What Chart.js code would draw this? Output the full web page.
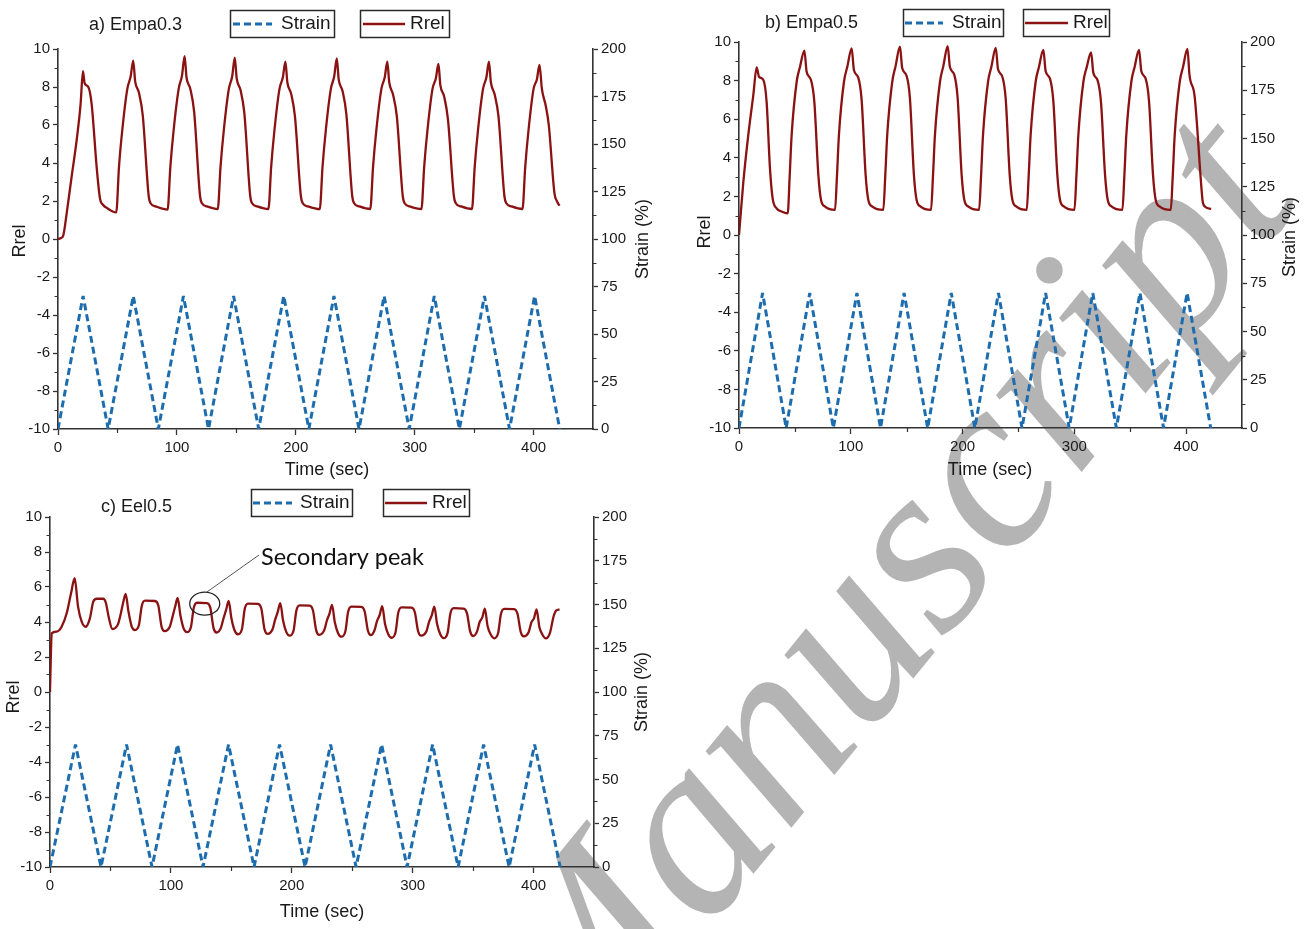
<!DOCTYPE html>
<html><head><meta charset="utf-8">
<script src="https://cdn.jsdelivr.net/npm/chart.js@4.4.1/dist/chart.umd.min.js"></script>
<style>
html,body{margin:0;padding:0;background:#fff;}
body{width:1304px;height:929px;position:relative;overflow:hidden;}
canvas{position:absolute;}
#wm{position:absolute;left:0;top:0;}
</style></head><body>
<svg id="wm" width="1304" height="929"><text x="575" y="1093" transform="rotate(-50.8 575 1093)" font-family="Liberation Serif" font-style="italic" font-size="250" fill="#b4b4b4">Manuscript</text></svg>
<canvas id="ca" width="652" height="482" style="left:0;top:0;width:652px;height:482px"></canvas>
<canvas id="cb" width="652" height="482" style="left:652px;top:0;width:652px;height:482px"></canvas>
<canvas id="cc" width="652" height="447" style="left:0;top:482px;width:652px;height:447px"></canvas>
<script>
// ---------- data ----------
const strainTime = [0,21.1,42.2,63.3,84.4,105.5,126.6,147.7,168.8,189.9,211,232.1,253.2,274.3,295.4,316.5,337.6,358.7,379.8,400.9,422];
const strainPct  = [0,70,0,70,0,70,0,70,0,70,0,70,0,70,0,70,0,70,0,70,0];

const aTime = [0,2.5,4.5,7.3,11.5,15.7,19,21,22.4,25.5,28.3,32.5,35.3,38,42,46,
 49.0,51.3,54.1,58.3,61.1,63.3,64.9,68.1,71.3,76.3,77.9,82.1,
 92.2,94.5,97.3,101.5,104.3,106.5,108.1,111.3,114.5,119.5,121.1,125.3,
 134.4,136.7,139.5,143.7,146.5,148.7,150.3,153.5,156.7,161.7,163.3,167.5,
 177.0,179.3,182.1,186.3,189.1,191.3,192.9,196.1,199.3,204.3,205.9,210.1,
 220.2,222.5,225.3,229.5,232.3,234.5,236.1,239.3,242.5,247.5,249.1,253.3,
 262.7,265.0,267.8,272.0,274.8,277.0,278.6,281.8,285.0,290.0,291.6,295.8,
 305.7,308.0,310.8,315.0,317.8,320.0,321.6,324.8,328.0,333.0,334.6,338.8,
 348.2,350.5,353.3,357.5,360.3,362.5,364.1,367.3,370.5,375.5,377.1,381.3,
 390.7,393.0,395.8,400.0,402.8,405.0,407.0,410.3,412.8,417.6,419.6,421.8];
const aRrel = [0,0.05,0.2,1.35,3.3,5.2,7.1,8.84,8.2,8.0,7.1,3.8,2.14,1.79,1.6,1.45,
 1.40,3.8,5.75,7.9,8.55,9.39,8.3,7.7,6.5,2.25,1.88,1.72,
 1.55,3.8,5.75,7.9,8.6,9.63,8.5,7.9,6.7,2.25,1.88,1.72,
 1.58,3.8,5.75,7.9,8.55,9.54,8.45,7.85,6.65,2.25,1.88,1.72,
 1.58,3.8,5.75,7.9,8.5,9.33,8.25,7.65,6.45,2.25,1.88,1.72,
 1.57,3.8,5.75,7.9,8.55,9.51,8.4,7.8,6.6,2.25,1.88,1.72,
 1.58,3.8,5.75,7.9,8.5,9.33,8.25,7.6,6.45,2.25,1.88,1.72,
 1.58,3.8,5.75,7.9,8.45,9.21,8.1,7.5,6.3,2.25,1.88,1.72,
 1.58,3.8,5.75,7.9,8.5,9.33,8.25,7.6,6.45,2.25,1.88,1.72,
 1.58,3.8,5.75,7.9,8.4,9.16,7.9,7.0,6.0,2.4,2.0,1.75];

const bTime = [0,3.9,8.3,12.8,15.8,17.9,21.8,24.7,27.7,30.1,33.7,38.0,43.6,
 45.3,47.1,51.6,54.6,58.5,60.5,64.4,67.4,71.0,73.4,77.0,85.9,
 87.6,89.4,93.9,96.9,100.8,102.8,106.7,109.7,113.3,115.7,119.3,129.1,
 130.8,132.6,137.1,140.1,144.0,146.0,149.9,152.9,156.5,158.9,162.5,171.8,
 173.5,175.3,179.8,182.8,186.7,188.7,192.6,195.6,199.2,201.6,205.2,214.8,
 216.5,218.3,222.8,225.8,229.7,231.7,235.6,238.6,242.2,244.6,248.2,257.4,
 259.1,260.9,265.4,268.4,272.3,274.3,278.2,281.2,284.8,287.2,290.8,300.1,
 301.8,303.6,308.1,311.1,315.0,317.0,320.9,323.9,327.5,329.9,333.5,343.0,
 344.7,346.5,351.0,354.0,357.9,359.9,363.8,366.8,370.4,372.8,376.4,386.3,
 388.0,389.8,394.3,397.3,401.2,403.0,407.6,413.5,414.8,417.3,422.4];
const bRrel = [0,2.76,5.18,7.25,8.69,8.2,8.03,6.9,3.45,1.9,1.38,1.22,1.12,
 3.0,5.18,7.94,8.72,9.55,8.46,8.03,6.9,3.1,1.81,1.47,1.3,
 3.0,5.18,7.94,8.72,9.67,8.55,8.15,7.0,3.1,1.81,1.47,1.3,
 3.0,5.18,7.94,8.75,9.76,8.65,8.25,7.1,3.1,1.81,1.47,1.3,
 3.0,5.18,7.94,8.75,9.79,8.7,8.3,7.1,3.1,1.81,1.47,1.3,
 3.0,5.18,7.94,8.72,9.7,8.6,8.2,7.05,3.1,1.81,1.47,1.3,
 3.0,5.18,7.94,8.72,9.59,8.5,8.1,6.95,3.1,1.81,1.47,1.3,
 3.0,5.18,7.94,8.7,9.46,8.4,8.0,6.85,3.1,1.81,1.47,1.3,
 3.0,5.18,7.94,8.72,9.59,8.5,8.1,6.95,3.1,1.81,1.47,1.3,
 3.0,5.18,7.94,8.72,9.64,8.3,7.2,2.6,1.75,1.45,1.35];

const cTime = [0,0.6,1.4,5.5,9.6,13.8,17.4,20.4,23.2,26.2,29.5,33.0,35.8,38.6,44.0,46.2,48.5,51.6,56.1,58.3,60.5,
 62.6,64.9,67.6,70.3,73.6,75.9,78.6,86.9,89.6,92.3,94.8,99.1,101.3,103.5,
 105.6,107.9,110.6,113.3,116.6,118.9,121.6,129.9,132.6,135.3,137.8,141.3,143.5,145.7,
 147.8,150.1,152.8,155.5,158.8,161.1,163.8,172.1,174.8,177.5,180.0,184.0,186.2,188.4,
 190.5,192.8,195.5,198.2,201.5,203.8,206.5,214.8,217.5,220.2,222.7,226.8,229.0,231.2,
 233.3,235.6,238.3,241.0,244.3,246.6,249.3,257.6,260.3,263.0,265.5,268.3,270.5,272.7,
 274.8,277.1,279.8,282.5,285.8,288.1,290.8,299.1,301.8,304.5,307.0,311.4,313.6,315.8,
 317.9,320.2,322.9,325.6,328.9,331.2,333.9,342.2,344.9,347.6,350.1,353.2,355.4,357.6,
 359.7,362.0,364.7,367.4,370.7,373.0,375.7,384.0,386.7,389.4,391.9,396.0,398.2,400.4,
 402.5,404.8,407.5,410.2,413.5,416.5,418.8,421.5];
const cRrel = [0,1.8,3.35,3.45,3.73,4.5,5.64,6.5,4.88,4.02,3.73,4.21,5.16,5.33,5.33,5.1,4.3,3.6,3.85,4.4,5.1,
 5.6,4.6,3.74,3.54,3.84,4.92,5.22,5.2,4.94,3.73,3.48,3.73,4.28,4.87,
 5.37,4.37,3.62,3.42,3.72,4.8,5.1,5.08,4.82,3.65,3.4,3.65,4.2,4.7,
 5.2,4.2,3.5,3.3,3.6,4.75,5.05,5.03,4.77,3.57,3.32,3.57,4.12,4.58,
 5.08,4.08,3.42,3.22,3.52,4.65,4.95,4.93,4.67,3.52,3.27,3.52,4.07,4.48,
 4.98,3.98,3.36,3.16,3.46,4.58,4.88,4.86,4.6,3.5,3.25,3.5,4.05,4.4,
 4.9,3.9,3.3,3.1,3.4,4.54,4.84,4.82,4.56,3.47,3.22,3.47,4.02,4.38,
 4.88,3.88,3.28,3.08,3.38,4.49,4.79,4.77,4.51,3.45,3.2,3.45,4.0,4.26,
 4.76,3.76,3.27,3.07,3.37,4.45,4.75,4.73,4.47,3.43,3.18,3.43,3.98,4.22,
 4.72,3.72,3.26,3.06,3.36,4.3,4.66,4.72];

const panelTitles = ['a) Empa0.3','b) Empa0.5','c) Eel0.5'];
const seriesNames = ['Strain','Rrel'];
const axisTitles = {x:'Time (sec)', y:'Rrel', y1:'Strain (%)'};

// ---------- style ----------
const BLUE = '#1c6cae', RED = '#8a1212', AXIS = '#333333', TXT = '#1a1a1a';
const FONT = "'Liberation Sans', Arial, sans-serif";
const tickFont = {family: FONT, size: 15};

function decor(L) {
  return {
    id: 'decor',
    afterDraw(chart) {
      const ctx = chart.ctx;
      const sx = chart.scales.x, sy = chart.scales.y, sy1 = chart.scales.y1;
      const ca = chart.chartArea;
      ctx.save();
      // minor ticks
      ctx.strokeStyle = AXIS; ctx.lineWidth = 1.2;
      ctx.beginPath();
      for (let v = -9; v <= 9; v += 2) { const p = Math.round(sy.getPixelForValue(v)) + 0.5; ctx.moveTo(ca.left - 3.5, p); ctx.lineTo(ca.left, p); }
      for (let v = 12.5; v < 200; v += 25) { const p = Math.round(sy1.getPixelForValue(v)) + 0.5; ctx.moveTo(ca.right, p); ctx.lineTo(ca.right + 3.5, p); }
      for (let v = 50; v < 450; v += 100) { const p = Math.round(sx.getPixelForValue(v)) + 0.5; ctx.moveTo(p, ca.bottom); ctx.lineTo(p, ca.bottom + 4); }
      ctx.stroke();
      // panel title
      ctx.fillStyle = TXT; ctx.textBaseline = 'middle'; ctx.textAlign = 'left';
      ctx.font = '18px ' + FONT;
      ctx.fillText(L.title, L.tx, L.ty);
      // legend boxes
      L.leg.forEach((g, i) => {
        ctx.strokeStyle = '#2a2a2a'; ctx.lineWidth = 1.5; ctx.setLineDash([]);
        ctx.strokeRect(g.x + 0.5, g.y + 0.5, g.w, g.h);
        const my = g.y + g.h / 2 + 0.5;
        ctx.beginPath();
        if (i === 0) { ctx.strokeStyle = BLUE; ctx.lineWidth = 3; ctx.setLineDash([7, 4]); }
        else { ctx.strokeStyle = RED; ctx.lineWidth = 2.4; }
        ctx.moveTo(g.s0, my); ctx.lineTo(g.s1, my); ctx.stroke();
        ctx.setLineDash([]);
        ctx.fillStyle = TXT; ctx.font = '19px ' + FONT; ctx.textAlign = 'left';
        ctx.fillText(seriesNames[i], g.t, my);
      });
      // axis titles
      ctx.font = '18px ' + FONT; ctx.textAlign = 'center'; ctx.fillStyle = TXT;
      ctx.fillText(axisTitles.x, L.xt[0], L.xt[1]);
      ctx.save(); ctx.translate(L.yt[0], L.yt[1]); ctx.rotate(-Math.PI / 2); ctx.fillText(axisTitles.y, 0, 0); ctx.restore();
      ctx.save(); ctx.translate(L.y1t[0], L.y1t[1]); ctx.rotate(-Math.PI / 2); ctx.fillText(axisTitles.y1, 0, 0); ctx.restore();
      // annotation
      if (L.note) {
        const n = L.note;
        const ex = sx.getPixelForValue(n.t), ey = sy.getPixelForValue(n.v);
        ctx.strokeStyle = '#222'; ctx.lineWidth = 1.3;
        ctx.beginPath(); ctx.ellipse(ex, ey, n.rx, n.ry, 0, 0, Math.PI * 2); ctx.stroke();
        ctx.strokeStyle = '#555'; ctx.lineWidth = 1;
        ctx.beginPath(); ctx.moveTo(ex + 2, ey - n.ry); ctx.lineTo(n.lx, n.ly); ctx.stroke();
        ctx.font = "20px Lato, 'Open Sans', sans-serif";
        const w = ctx.measureText(n.text).width;
        const fs = 20 * n.w / w;
        ctx.font = fs.toFixed(2) + "px Lato, 'Open Sans', sans-serif";
        ctx.fillStyle = '#111'; ctx.textAlign = 'left'; ctx.textBaseline = 'middle';
        ctx.fillText(n.text, n.x, n.y);
      }
      ctx.restore();
    }
  };
}

function makeChart(id, time, rrel, L) {
  const rrelPts = time.map((t, i) => ({x: t, y: rrel[i]}));
  const strainPts = strainTime.map((t, i) => ({x: t, y: strainPct[i]}));
  const gridOpt = {drawOnChartArea: false, drawTicks: true, tickLength: 5, tickColor: AXIS, tickWidth: 1.3, color: AXIS};
  const border = {display: true, color: AXIS, width: 1.6};
  return new Chart(document.getElementById(id), {
    type: 'line',
    data: {datasets: [
      {label: seriesNames[0], data: strainPts, yAxisID: 'y1', borderColor: BLUE, borderWidth: 3, borderDash: [7, 4], borderCapStyle: 'butt', borderJoinStyle: 'bevel', pointRadius: 0, tension: 0, fill: false},
      {label: seriesNames[1], data: rrelPts, yAxisID: 'y', borderColor: RED, borderWidth: 2.3, borderJoinStyle: 'round', pointRadius: 0, cubicInterpolationMode: 'monotone', fill: false}
    ]},
    options: {
      responsive: false, animation: false, devicePixelRatio: 1,
      layout: {padding: {top: L.top, left: 0, right: 0, bottom: 0}},
      plugins: {legend: {display: false}, tooltip: {enabled: false}, title: {display: false}},
      scales: {
        x: {type: 'linear', min: 0, max: 450,
            ticks: {stepSize: 100, includeBounds: false, font: tickFont, color: TXT, padding: 4, maxRotation: 0},
            grid: Object.assign({}, gridOpt, {tickLength: 6}), border: border,
            afterFit: s => { s.height = L.bottom; }},
        y: {position: 'left', min: -10, max: 10,
            ticks: {stepSize: 2, font: tickFont, color: TXT, padding: 3},
            grid: gridOpt, border: border,
            afterFit: s => { s.width = L.left; }},
        y1: {position: 'right', min: 0, max: 200,
            ticks: {stepSize: 25, font: tickFont, color: TXT, padding: 3},
            grid: gridOpt, border: border,
            afterFit: s => { s.width = L.right; }}
      }
    },
    plugins: [decor(L)]
  });
}

makeChart('ca', aTime, aRrel, {
  top: 49, left: 58, right: 59, bottom: 53,
  title: panelTitles[0], tx: 89, ty: 25,
  leg: [{x: 230, y: 10, w: 104, h: 27, s0: 233, s1: 272, t: 281}, {x: 360, y: 10, w: 89, h: 27, s0: 363, s1: 405, t: 410}],
  yt: [20, 241], y1t: [643, 239], xt: [327, 470]
});
makeChart('cb', bTime, bRrel, {
  top: 42, left: 87, right: 62, bottom: 54,
  title: panelTitles[1], tx: 113, ty: 23,
  leg: [{x: 251, y: 9, w: 100, h: 27, s0: 253, s1: 291, t: 300}, {x: 371, y: 9, w: 86, h: 27, s0: 373, s1: 416, t: 421}],
  yt: [53, 232], y1t: [638, 237], xt: [338, 470]
});
makeChart('cc', cTime, cRrel, {
  top: 35, left: 50, right: 58, bottom: 62,
  title: panelTitles[2], tx: 101, ty: 25,
  leg: [{x: 251, y: 7, w: 101, h: 27, s0: 253, s1: 292, t: 300}, {x: 383, y: 7, w: 86, h: 27, s0: 385, s1: 427, t: 432}],
  yt: [14, 215], y1t: [642, 210], xt: [322, 430],
  note: {text: 'Secondary peak', t: 128, v: 5.05, rx: 15, ry: 11.5, lx: 259, ly: 73, x: 261, y: 75, w: 163}
});
</script>
</body></html>
